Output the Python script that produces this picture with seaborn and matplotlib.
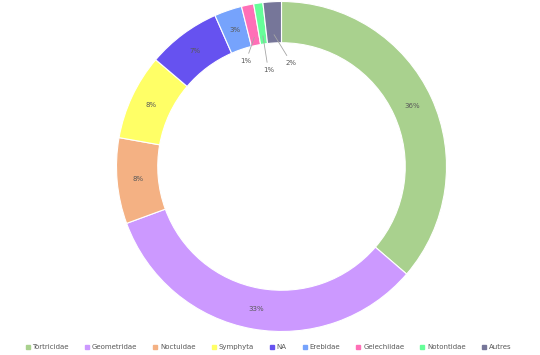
import numpy as np
import matplotlib
matplotlib.use("Agg")
import matplotlib.pyplot as plt
from matplotlib.lines import Line2D
import seaborn as sns

categories = ["Tortricidae", "Geometridae", "Noctuidae", "Symphyta", "NA",
              "Erebidae", "Gelechiidae", "Notontidae", "Autres"]
values = [36.3, 33.1, 8.4, 8.4, 7.2, 2.7, 1.2, 0.9, 1.8]
colors = ["#a9d18e", "#cc99ff", "#f4b183", "#ffff66", "#6652f0",
          "#76a3fc", "#ff6fb7", "#66ff99", "#767699"]

sns.set_theme(style="white")
plt.rcParams['font.family'] = ['DejaVu Sans']

fig = plt.figure(figsize=(5.4, 3.55), dpi=100)
cx, cy, R = 281.5, 166.5, 165.0
W, H = 540.0, 355.0
ax = fig.add_axes([(cx - R) / W, (H - cy - R) / H, 2 * R / W, 2 * R / H])

palette = sns.color_palette(colors)
wedges, texts, autotexts = ax.pie(
    values, colors=palette, startangle=90, counterclock=False,
    radius=1.0, autopct=lambda p: f"{p:.0f}%", pctdistance=0.875,
    wedgeprops=dict(width=0.25, edgecolor="white", linewidth=0.8),
    textprops=dict(fontsize=5, color="#595959"))
ax.set_xlim(-1, 1)
ax.set_ylim(-1, 1)
ax.set_aspect("equal")
ax.axis("off")

# small slices: labels in the hole with leader lines
label_pos = {6: (-0.215, 0.640), 7: (-0.080, 0.585), 8: (0.060, 0.627)}
for i, (lx, ly) in label_pos.items():
    t = autotexts[i]
    txt = t.get_text()
    t.set_visible(False)
    w = wedges[i]
    mid = np.deg2rad((w.theta1 + w.theta2) / 2)
    sx, sy = 0.80 * np.cos(mid), 0.80 * np.sin(mid)
    ax.annotate(txt, xy=(sx, sy), xytext=(lx, ly), fontsize=5,
                color="#595959", ha="center", va="center",
                arrowprops=dict(arrowstyle="-", color="#a6a6a6", lw=0.6,
                                shrinkA=1, shrinkB=0))

handles = [Line2D([], [], marker="s", linestyle="none", markersize=3.2,
                  markerfacecolor=c, markeredgecolor=c) for c in colors]
fig.legend(handles, categories, loc="center", bbox_to_anchor=(268.5 / W, 8.0 / H),
           ncol=9, frameon=False, fontsize=5, handlelength=0.6,
           handletextpad=0.4, columnspacing=2.3, labelcolor="#595959")

fig.savefig("out.png", dpi=100)
